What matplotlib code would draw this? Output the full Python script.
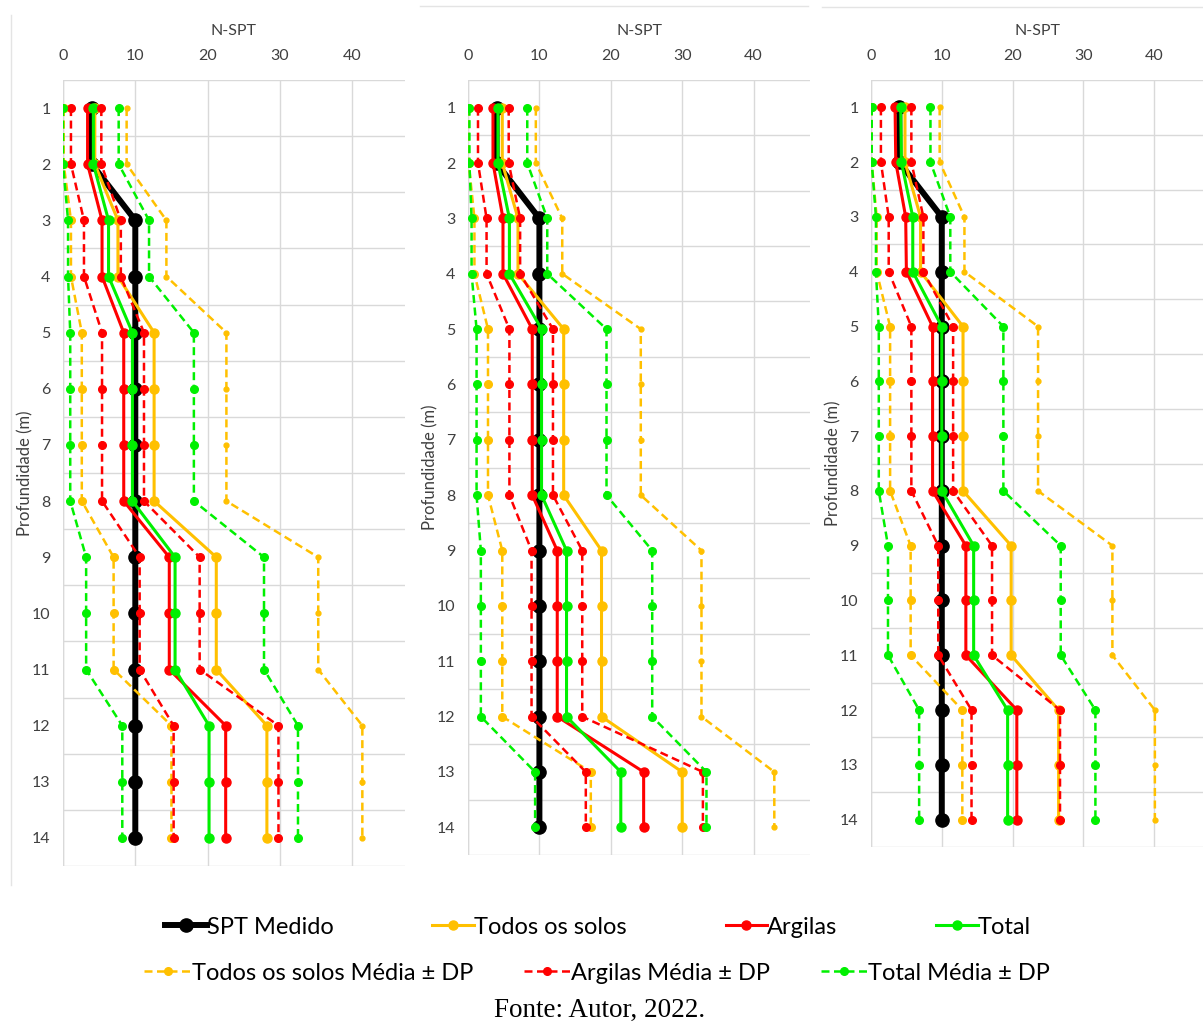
import numpy as np
import matplotlib
matplotlib.use('Agg')
import matplotlib.pyplot as plt
from matplotlib.lines import Line2D

plt.rcParams['font.family'] = ['Lato', 'DejaVu Sans']

# ─────────────────────────────────────────────────────────────────────────────
# Data, depth 1..14 m
# ─────────────────────────────────────────────────────────────────────────────
depth = list(range(1, 15))

# SPT medido is the same in the three panels
spt_medido = [4, 4, 10, 10, 10, 10, 10, 10, 10, 10, 10, 10, 10, 10]

# Panel 1
p1_todos = [4.4, 4.4, 7.6, 7.6, 12.6, 12.6, 12.6, 12.6, 21.2, 21.2, 21.2, 28.2, 28.2, 28.2]
p1_todos_sup = [8.8, 8.8, 14.3, 14.3, 22.6, 22.6, 22.6, 22.6, 35.3, 35.3, 35.3, 41.4, 41.4, 41.4]
p1_todos_inf = [0.1, 0.1, 1.1, 1.1, 2.6, 2.6, 2.6, 2.6, 7.0, 7.0, 7.0, 15.0, 15.0, 15.0]
p1_argilas = [3.4, 3.4, 5.4, 5.4, 8.4, 8.4, 8.4, 8.4, 14.7, 14.7, 14.7, 22.5, 22.5, 22.5]
p1_argilas_sup = [5.3, 5.3, 8.0, 8.0, 11.2, 11.2, 11.2, 11.2, 18.9, 18.9, 18.9, 29.8, 29.8, 29.8]
p1_argilas_inf = [1.1, 1.1, 2.9, 2.9, 5.4, 5.4, 5.4, 5.4, 10.6, 10.6, 10.6, 15.3, 15.3, 15.3]
p1_total = [4.2, 4.2, 6.3, 6.3, 9.6, 9.6, 9.6, 9.6, 15.5, 15.5, 15.5, 20.2, 20.2, 20.2]
p1_total_sup = [7.7, 7.7, 11.9, 11.9, 18.1, 18.1, 18.1, 18.1, 27.8, 27.8, 27.8, 32.5, 32.5, 32.5]
p1_total_inf = [0.0, 0.0, 0.7, 0.7, 1.0, 1.0, 1.0, 1.0, 3.2, 3.2, 3.2, 8.2, 8.2, 8.2]

# Panel 2
p2_todos = [4.8, 4.8, 7.0, 7.0, 13.4, 13.4, 13.4, 13.4, 18.7, 18.7, 18.7, 18.7, 30.0, 30.0]
p2_todos_sup = [9.5, 9.5, 13.2, 13.2, 24.2, 24.2, 24.2, 24.2, 32.7, 32.7, 32.7, 32.7, 42.9, 42.9]
p2_todos_inf = [0.1, 0.1, 0.9, 0.9, 2.8, 2.8, 2.8, 2.8, 4.8, 4.8, 4.8, 4.8, 17.2, 17.2]
p2_argilas = [3.5, 3.5, 4.9, 4.9, 9.0, 9.0, 9.0, 9.0, 12.5, 12.5, 12.5, 12.5, 24.6, 24.6]
p2_argilas_sup = [5.7, 5.7, 7.3, 7.3, 11.9, 11.9, 11.9, 11.9, 16.0, 16.0, 16.0, 16.0, 32.9, 32.9]
p2_argilas_inf = [1.4, 1.4, 2.6, 2.6, 5.8, 5.8, 5.8, 5.8, 8.9, 8.9, 8.9, 8.9, 16.5, 16.5]
p2_total = [4.2, 4.2, 5.8, 5.8, 10.3, 10.3, 10.3, 10.3, 13.8, 13.8, 13.8, 13.8, 21.4, 21.4]
p2_total_sup = [8.3, 8.3, 11.1, 11.1, 19.4, 19.4, 19.4, 19.4, 25.8, 25.8, 25.8, 25.8, 33.4, 33.4]
p2_total_inf = [0.2, 0.2, 0.5, 0.5, 1.2, 1.2, 1.2, 1.2, 1.8, 1.8, 1.8, 1.8, 9.4, 9.4]

# Panel 3
p3_todos = [4.8, 4.8, 7.0, 7.0, 13.0, 13.0, 13.0, 13.0, 19.8, 19.8, 19.8, 26.5, 26.5, 26.5]
p3_todos_sup = [9.7, 9.7, 13.2, 13.2, 23.6, 23.6, 23.6, 23.6, 34.1, 34.1, 34.1, 40.1, 40.1, 40.1]
p3_todos_inf = [0.1, 0.1, 0.8, 0.8, 2.7, 2.7, 2.7, 2.7, 5.6, 5.6, 5.6, 12.9, 12.9, 12.9]
p3_argilas = [3.4, 3.5, 4.9, 5.0, 8.7, 8.7, 8.7, 8.7, 13.4, 13.4, 13.4, 20.6, 20.6, 20.6]
p3_argilas_sup = [5.7, 5.7, 7.4, 7.4, 11.6, 11.6, 11.6, 11.6, 17.1, 17.1, 17.1, 26.7, 26.7, 26.7]
p3_argilas_inf = [1.4, 1.4, 2.5, 2.5, 5.7, 5.7, 5.7, 5.7, 9.5, 9.5, 9.5, 14.2, 14.2, 14.2]
p3_total = [4.2, 4.3, 5.9, 5.9, 10.0, 10.0, 10.0, 10.0, 14.5, 14.5, 14.5, 19.3, 19.3, 19.3]
p3_total_sup = [8.4, 8.4, 11.2, 11.2, 18.7, 18.7, 18.7, 18.7, 26.8, 26.8, 26.8, 31.7, 31.7, 31.7]
p3_total_inf = [0.1, 0.1, 0.7, 0.7, 1.1, 1.1, 1.1, 1.1, 2.4, 2.4, 2.4, 6.8, 6.8, 6.8]

panels = [
    dict(todos=p1_todos, todos_sup=p1_todos_sup, todos_inf=p1_todos_inf,
         argilas=p1_argilas, argilas_sup=p1_argilas_sup, argilas_inf=p1_argilas_inf,
         total=p1_total, total_sup=p1_total_sup, total_inf=p1_total_inf),
    dict(todos=p2_todos, todos_sup=p2_todos_sup, todos_inf=p2_todos_inf,
         argilas=p2_argilas, argilas_sup=p2_argilas_sup, argilas_inf=p2_argilas_inf,
         total=p2_total, total_sup=p2_total_sup, total_inf=p2_total_inf),
    dict(todos=p3_todos, todos_sup=p3_todos_sup, todos_inf=p3_todos_inf,
         argilas=p3_argilas, argilas_sup=p3_argilas_sup, argilas_inf=p3_argilas_inf,
         total=p3_total, total_sup=p3_total_sup, total_inf=p3_total_inf),
]

x_ticks = [0, 10, 20, 30, 40]

# ─────────────────────────────────────────────────────────────────────────────
# Style
# ─────────────────────────────────────────────────────────────────────────────
C_BLACK = '#000000'
C_ORANGE = '#FFC000'
C_RED = '#FF0000'
C_GREEN = '#00F000'
C_GRID = '#D9D9D9'
C_TEXT = '#404040'
DASH = (0, (3.2, 1.8))

W, H = 1203, 1022
fig = plt.figure(figsize=(W / 100, H / 100), dpi=100)

# axes rectangles in pixels: left, top, right, bottom ; and x max
rects = [(63, 80, 405, 866, 47.3),
         (468, 80, 810, 855, 47.9),
         (871, 80, 1203, 847, 46.9)]

handles = {}
for i, (p, (l, t, r, b, xmax)) in enumerate(zip(panels, rects)):
    ax = fig.add_axes([l / W, 1 - b / H, (r - l) / W, (b - t) / H])

    # solid series
    h_spt, = ax.plot(spt_medido, depth, color=C_BLACK, lw=4.3, marker='o', ms=9.5,
                     zorder=3, label='SPT Medido')
    h_tod, = ax.plot(p['todos'], depth, color=C_ORANGE, lw=2.2, marker='o', ms=6.5,
                     zorder=4, label='Todos os solos')
    h_arg, = ax.plot(p['argilas'], depth, color=C_RED, lw=2.2, marker='o', ms=6.5,
                     zorder=5, label='Argilas')
    h_tot, = ax.plot(p['total'], depth, color=C_GREEN, lw=2.2, marker='o', ms=6.5,
                     zorder=6, label='Total')

    # mean +- sd series (dashed)
    h_tdp, = ax.plot(p['todos_inf'], depth, color=C_ORANGE, lw=1.8, ls=DASH,
                     marker='o', ms=5.5, zorder=7, label='Todos os solos Média ± DP')
    ax.plot(p['todos_sup'], depth, color=C_ORANGE, lw=1.8, ls=DASH,
            marker='o', ms=3.5, zorder=7)
    h_adp, = ax.plot(p['argilas_inf'], depth, color=C_RED, lw=1.8, ls=DASH,
                     marker='o', ms=5.5, zorder=8, label='Argilas Média ± DP')
    ax.plot(p['argilas_sup'], depth, color=C_RED, lw=1.8, ls=DASH,
            marker='o', ms=5.5, zorder=8)
    h_gdp, = ax.plot(p['total_inf'], depth, color=C_GREEN, lw=1.8, ls=DASH,
                     marker='o', ms=5.5, zorder=9, label='Total Média ± DP')
    ax.plot(p['total_sup'], depth, color=C_GREEN, lw=1.8, ls=DASH,
            marker='o', ms=5.5, zorder=9)

    if i == 0:
        handles = [h_spt, h_tod, h_arg, h_tot, h_tdp, h_adp, h_gdp]

    ax.set_xlim(0, xmax)
    ax.set_ylim(14.5, 0.5)
    ax.set_xticks(x_ticks)
    ax.set_yticks(depth)
    ax.set_yticks(np.arange(0.5, 15, 1.0), minor=True)
    ax.xaxis.tick_top()
    ax.xaxis.set_label_position('top')
    ax.tick_params(axis='both', which='both', length=0, labelsize=11.5,
                   labelcolor=C_TEXT)
    ax.tick_params(axis='x', pad=12)
    ax.tick_params(axis='y', pad=9)
    ax.grid(True, axis='x', which='major', color=C_GRID, lw=1.0)
    ax.grid(True, axis='y', which='minor', color=C_GRID, lw=1.0)
    ax.set_axisbelow(True)
    for s in ax.spines.values():
        s.set_visible(False)
    ax.axvline(0, color=C_GRID, lw=1.0, zorder=0)
    ax.set_xlabel('N-SPT', fontsize=11.5, color=C_TEXT, labelpad=10)
    ax.set_ylabel('Profundidade (m)', fontsize=12, color=C_TEXT, va='center')
    ax.yaxis.set_label_coords(-38 / (r - l), 0.5)

# faint chart-area borders seen in the source image
def px_line(x0, y0, x1, y1):
    fig.add_artist(Line2D([x0 / W, x1 / W], [1 - y0 / H, 1 - y1 / H],
                          color='#E4E4E4', lw=1.0))

px_line(11, 15, 11, 885)
px_line(420, 6, 808, 6)
px_line(822, 7, 1203, 7)

# ─────────────────────────────────────────────────────────────────────────────
# Legend (two rows) and source line
# ─────────────────────────────────────────────────────────────────────────────
fig.legend(handles=handles[:4], loc='center', ncol=4,
           bbox_to_anchor=(598 / W, 1 - 927 / H), frameon=False,
           prop={'family': 'Lato', 'size': 17}, handlelength=1.75,
           handletextpad=0.0, columnspacing=4.2, borderpad=0, numpoints=1)
fig.legend(handles=handles[4:], loc='center', ncol=3,
           bbox_to_anchor=(597 / W, 1 - 973 / H), frameon=False,
           prop={'family': 'Lato', 'size': 17}, handlelength=2.0,
           handletextpad=0.0, columnspacing=2.15, borderpad=0, numpoints=1)

fig.text(600 / W, 1 - 1010 / H, 'Fonte: Autor, 2022.', ha='center', va='center',
         fontsize=19.5, family=['Liberation Serif', 'DejaVu Serif'])

fig.savefig('out.png', dpi=100)
